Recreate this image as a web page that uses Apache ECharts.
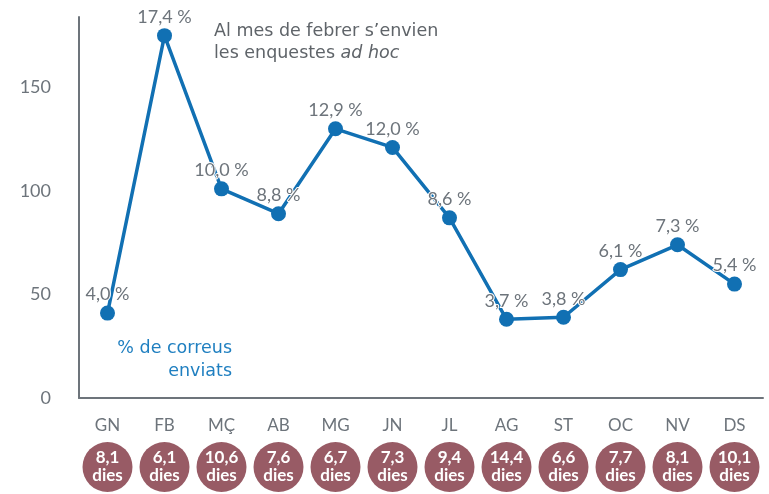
<!DOCTYPE html>
<html>
<head>
<meta charset="utf-8">
<script src="https://cdn.jsdelivr.net/npm/echarts@6/dist/echarts.min.js"></script>
<style>html,body{margin:0;padding:0;background:#fff}#c{width:769px;height:494px}</style>
</head>
<body>
<div id="c"></div>
<script>
var months = ['GN','FB','MÇ','AB','MG','JN','JL','AG','ST','OC','NV','DS'];
var sentPct = [4.0, 17.4, 10.0, 8.8, 12.9, 12.0, 8.6, 3.7, 3.8, 6.1, 7.3, 5.4];
var plotted = [41, 175, 101, 89, 130, 121, 87, 38, 39, 62, 74, 55];
var days = ['8,1','6,1','10,6','7,6','6,7','7,3','9,4','14,4','6,6','7,7','8,1','10,1'];
var yTicks = [0, 50, 100, 150];

var fmt = function (v) { return v.toFixed(1).replace('.', ',') + ' %'; };
var gray = '#6d747b';
var blue = '#1170b3';
var noteFont = '17.5px "DejaVu Sans"';

var chart = echarts.init(document.getElementById('c'), null, {renderer: 'canvas'});
chart.setOption({
  animation: false,
  grid: {left: 79, right: 6, top: 17, bottom: 96, containLabel: false},
  xAxis: [{
    type: 'category',
    data: months,
    axisLine: {lineStyle: {color: gray, width: 2}},
    axisTick: {show: false},
    axisLabel: {color: gray, fontFamily: 'Lato', fontSize: 17, margin: 19}
  }, {
    type: 'category',
    data: days,
    position: 'bottom',
    axisLine: {show: false},
    axisTick: {show: false},
    axisLabel: {
      margin: 44,
      formatter: function (v) { return v + '\ndies'; },
      color: '#fff', fontFamily: 'Lato', fontWeight: 'bold', fontSize: 17,
      lineHeight: 18, align: 'center',
      backgroundColor: '#985b65', borderRadius: 25,
      width: 50, padding: [7, 0, 7, 0]
    }
  }],
  yAxis: {
    type: 'value', min: 0, max: 184, interval: 50,
    splitLine: {show: false},
    axisLine: {show: true, lineStyle: {color: gray, width: 2}},
    axisTick: {show: false},
    axisLabel: {
      color: gray, fontFamily: 'Lato', fontSize: 18, margin: 28,
      formatter: function (v) { return yTicks.indexOf(v) >= 0 ? String(v) : ''; }
    }
  },
  series: [{
    type: 'line',
    data: plotted,
    symbol: 'circle', symbolSize: 15,
    lineStyle: {color: blue, width: 3.5},
    itemStyle: {color: blue},
    label: {
      show: true, position: 'top', distance: 2,
      color: gray, fontFamily: 'Lato', fontSize: 18,
      textBorderColor: '#fff', textBorderWidth: 2,
      formatter: function (p) { return fmt(sentPct[p.dataIndex]); }
    }
  }],
  graphic: [{
    type: 'text', left: 214, top: 20,
    style: {
      text: "Al mes de febrer s’envien\nles enquestes {i|ad hoc}",
      fill: '#5f6469', font: noteFont, lineHeight: 22,
      rich: {i: {fontStyle: 'italic', fill: '#5f6469', fontSize: 17.5, fontFamily: 'DejaVu Sans'}}
    }
  }, {
    type: 'text', right: 769 - 232, top: 339,
    style: {text: '% de correus', fill: '#1f7fc0', font: noteFont}
  }, {
    type: 'text', right: 769 - 232, top: 362,
    style: {text: 'enviats', fill: '#1f7fc0', font: noteFont}
  }]
});
</script>
</body>
</html>
